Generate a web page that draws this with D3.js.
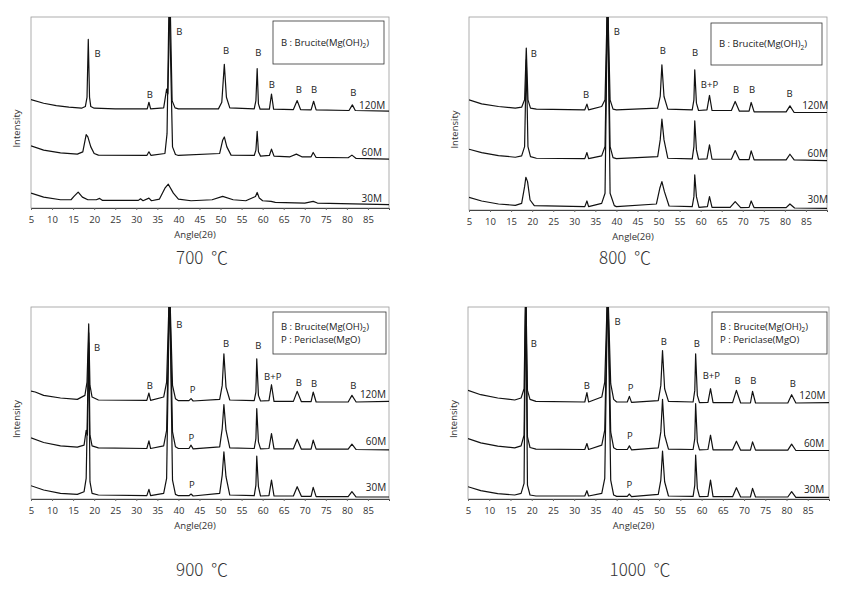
<!DOCTYPE html>
<html><head><meta charset="utf-8">
<script src="https://cdn.jsdelivr.net/npm/d3@7/dist/d3.min.js"></script>
<style>
body{margin:0;background:#fff;}
text{font-family:"Open Sans","Noto Sans CJK KR",sans-serif;}
</style></head>
<body><svg id="c" width="855" height="595"></svg>
<script>
// ---------- DATA (angle 2θ, intensity a.u.) ----------
const angleTicks = [5,10,15,20,25,30,35,40,45,50,55,60,65,70,75,80,85];
const panelTitles = ["700  ℃","800  ℃","900  ℃","1000  ℃"];
const seriesNames = ["120M","60M","30M"];

const p700_120M = [[5,328],[8,317],[11,310],[14,305],[17,302],[17.9,307],[18.3,335],[18.6,510],[18.9,335],[19.2,307],[20,302],[25,300],[32.6,300],[33,320],[33.4,300],[36.5,303],[37.2,360],[37.5,345],[38.0,650],[38.5,325],[39.2,303],[40,300],[49.5,300],[50.3,320],[50.9,435],[51.4,335],[52.2,303],[58,300],[58.4,325],[58.7,422],[59.0,315],[59.4,299],[61.6,299],[62.1,345],[62.6,299],[67.3,298],[68.2,325],[69,298],[71.5,297],[72.1,323],[72.7,297],[80.5,295],[81.3,312],[82,295],[90,293]];
const p700_60M = [[5,188],[8,175],[12,167],[16,163],[17.3,170],[18.1,222],[18.5,215],[19.2,185],[20,165],[21,160],[32.5,159],[33,170],[33.5,159],[36.8,165],[37.3,225],[37.8,650],[38.6,185],[39.3,162],[40,159],[49.8,165],[50.5,205],[50.9,215],[51.5,185],[52.5,160],[58,159],[58.4,175],[58.7,232],[59.0,170],[59.5,157],[61.6,159],[62.1,178],[62.7,157],[66.5,155],[68.0,163],[69.3,155],[71.5,155],[72.0,168],[72.7,153],[80.3,152],[81.2,160],[82.2,150],[90,148]];
const p700_30M = [[5,45],[8,33],[12,25],[14.5,25],[15.2,35],[16.2,48],[17.2,33],[18.5,25],[20.5,25],[21.3,29],[22,23],[30.5,23],[31,28],[31.6,22],[33,30],[33.6,22],[35.5,27],[36.8,60],[37.6,72],[38.8,45],[40,27],[43,22],[48,25],[50.5,35],[53,25],[56,22],[58.3,35],[58.7,47],[59.2,30],[60,22],[62,20],[63,17],[70,15],[72,20],[73,15],[90,10]];

const p800_120M = [[5,330],[8,318],[12,310],[16,305],[17.5,308],[18.2,330],[18.6,485],[19.0,330],[19.6,305],[21,302],[32.5,300],[33,317],[33.4,300],[36.5,310],[37.3,330],[37.9,650],[38.5,330],[39.2,302],[40,300],[49.8,305],[50.4,340],[50.8,435],[51.3,340],[52.2,302],[58,300],[58.4,330],[58.6,420],[59.0,320],[59.5,298],[61.5,300],[62.1,343],[62.7,298],[67.3,298],[68.2,325],[69.2,296],[71.5,296],[72.0,322],[72.7,294],[80.3,294],[81.2,312],[82.2,292],[90,292]];
const p800_60M = [[5,182],[8,172],[12,163],[16,158],[17.5,162],[18.2,190],[18.6,450],[19.0,190],[19.6,160],[21,155],[32.5,154],[33,172],[33.4,154],[36.5,162],[37.3,190],[37.9,650],[38.5,190],[39.2,157],[40,154],[49.8,160],[50.4,210],[50.8,272],[51.3,210],[52.2,155],[58,153],[58.4,190],[58.6,267],[59.0,180],[59.5,152],[61.5,153],[62.1,195],[62.7,152],[67.3,152],[68.2,178],[69.2,151],[71.5,151],[72.0,177],[72.7,150],[80.3,150],[81.2,167],[82.2,150],[90,148]];
const p800_30M = [[5,38],[8,27],[12,18],[16,14],[17.5,20],[18.2,70],[18.5,98],[18.9,85],[19.5,30],[20.5,13],[32.5,10],[33,27],[33.4,10],[36.5,20],[37.3,50],[37.9,650],[38.5,50],[39.5,13],[40,10],[49.5,18],[50.3,65],[50.8,85],[51.4,55],[52.5,12],[58,10],[58.4,40],[58.6,105],[59.0,40],[59.6,8],[61.6,10],[62.1,40],[62.7,8],[67,8],[68.2,25],[69.5,7],[71.5,8],[72.0,27],[72.7,7],[80.3,7],[81.2,18],[82.3,6],[90,5]];

const p900_120M = [[5,325],[6,322],[8,312],[12,304],[16,300],[17.8,312],[18.3,352],[18.7,527],[19.0,342],[19.5,307],[21,298],[32.5,297],[33,319],[33.4,297],[36.5,307],[37.2,352],[37.9,650],[38.6,342],[39.3,302],[40,296],[42.5,296],[43,302],[43.5,295],[49.8,300],[50.4,342],[50.8,437],[51.3,337],[52.2,298],[58,296],[58.4,322],[58.6,422],[59.0,312],[59.5,295],[61.5,296],[62.1,344],[62.7,294],[67.3,294],[68.2,324],[69.2,293],[71.5,293],[72.0,322],[72.7,292],[80.3,292],[81.2,312],[82.2,292],[90,294]];
const p900_60M = [[5,184],[8,170],[12,160],[16,156],[17.6,162],[18.1,207],[18.4,192],[18.7,500],[19.0,192],[19.5,160],[21,154],[32.5,152],[33,175],[33.4,152],[36.5,160],[37.2,207],[37.9,650],[38.6,202],[39.3,157],[40,152],[42.5,152],[43,162],[43.5,151],[49.8,157],[50.4,212],[50.8,284],[51.3,207],[52.2,154],[58,152],[58.4,182],[58.6,272],[59.0,172],[59.5,151],[61.5,152],[62.1,197],[62.7,151],[67.3,151],[68.2,180],[69.2,150],[71.5,150],[72.0,177],[72.7,150],[80.3,150],[81.2,165],[82.2,149],[90,148]];
const p900_30M = [[5,40],[8,27],[12,17],[16,14],[17.6,22],[18.1,62],[18.7,470],[19.0,52],[19.5,17],[21,12],[32.5,10],[33,29],[33.4,10],[36.5,17],[37.2,62],[37.9,650],[38.6,57],[39.3,14],[40,10],[42.5,10],[43,15],[43.5,9],[49.8,17],[50.4,72],[50.8,142],[51.3,67],[52.2,12],[58,10],[58.4,42],[58.6,129],[59.0,37],[59.5,9],[61.5,10],[62.1,57],[62.7,9],[67.3,9],[68.2,37],[69.2,8],[71.5,8],[72.0,35],[72.7,7],[80.3,7],[81.2,22],[82.2,6],[90,6]];

const p1000_120M = [[5,327],[8,314],[12,304],[16,298],[17.5,304],[18.2,332],[18.6,650],[19.0,327],[19.6,300],[21,294],[32.5,292],[33,320],[33.4,292],[36.5,307],[37.2,352],[37.9,650],[38.6,347],[39.3,300],[40,292],[42.5,292],[43,309],[43.5,291],[49.8,296],[50.4,342],[50.8,447],[51.3,332],[52.2,294],[58,292],[58.4,327],[58.6,437],[59.0,312],[59.5,290],[61.5,291],[62.1,332],[62.7,290],[67.3,290],[68.2,327],[69.2,289],[71.5,289],[72.0,324],[72.7,289],[80.3,289],[81.2,314],[82.2,289],[90,290]];
const p1000_60M = [[5,182],[8,169],[12,159],[16,154],[17.5,160],[18.2,192],[18.6,650],[19.0,187],[19.6,155],[21,150],[32.5,149],[33,167],[33.4,149],[36.5,162],[37.2,207],[37.9,650],[38.6,202],[39.3,154],[40,149],[42.5,149],[43,160],[43.5,148],[49.8,154],[50.4,202],[50.8,300],[51.3,192],[52.2,150],[58,149],[58.4,182],[58.6,287],[59.0,172],[59.5,148],[61.5,149],[62.1,192],[62.7,148],[67.3,148],[68.2,174],[69.2,147],[71.5,147],[72.0,172],[72.7,147],[80.3,147],[81.2,165],[82.2,146],[90,146]];
const p1000_30M = [[5,37],[8,25],[12,16],[16,12],[17.5,17],[18.2,47],[18.6,650],[19.0,42],[19.6,12],[21,9],[32.5,9],[33,25],[33.4,9],[36.5,17],[37.2,62],[37.9,650],[38.6,57],[39.3,12],[40,8],[42.5,8],[43,15],[43.5,7],[49.8,14],[50.4,57],[50.8,144],[51.3,52],[52.2,9],[58,8],[58.4,42],[58.6,132],[59.0,32],[59.5,7],[61.5,8],[62.1,57],[62.7,7],[67.3,7],[68.2,34],[69.2,6],[71.5,6],[72.0,32],[72.7,6],[80.3,6],[81.2,22],[82.2,5],[90,5]];

// peak annotations [angle, intensity, text]
const peaks700 = [[20.8,467,"B"],[40.2,533,"B"],[33.2,343,"B"],[51.3,477,"B"],[59.0,470,"B"],[62.2,373,"B"],[68.6,357,"B"],[72.2,357,"B"],[81.5,350,"B"]];
const peaks800 = [[20.4,467,"B"],[40.1,535,"B"],[32.8,345,"B"],[51.0,478,"B"],[58.7,472,"B"],[62.1,375,"B+P"],[68.4,360,"B"],[72.2,360,"B"],[81.1,347,"B"]];
const peaks900 = [[20.7,457,"B"],[40.2,524,"B"],[33.2,340,"B"],[43.4,329,"P"],[51.3,469,"B"],[59.0,462,"B"],[62.4,367,"B+P"],[68.6,350,"B"],[72.2,347,"B"],[81.5,342,"B"],[43.1,185,"P"],[43.2,42,"P"]];
const peaks1000 = [[20.5,467,"B"],[40.2,535,"B"],[33.0,342,"B"],[43.3,335,"P"],[51.1,475,"B"],[58.9,469,"B"],[62.3,372,"B+P"],[68.5,355,"B"],[72.2,355,"B"],[81.5,347,"B"],[43.1,190,"P"],[43.0,42,"P"]];
// series label positions [angle, intensity]
const sLabels700 = [[86.0,310],[85.9,167],[85.9,28]];
const sLabels800 = [[87.2,312],[87.8,168],[87.8,30]];
const sLabels900 = [[86.2,315],[86.9,172],[86.9,34]];
const sLabels1000 = [[86.1,312],[86.5,167],[86.5,30]];

const legendBrucite = ["B : Brucite(Mg(OH)", "2", ")"];
const legendPericlase = "P : Periclase(MgO)";

// ---------- LAYOUT ----------
const panels = [
  {l:31, t:17, r:389, b:208, series:[p700_120M,p700_60M,p700_30M], peaks:peaks700, sl:sLabels700, title:panelTitles[0], tx:202, ty:258, leg:{x:273,y:21,w:111,h:43}, legLines:1},
  {l:469, t:17, r:827, b:210, series:[p800_120M,p800_60M,p800_30M], peaks:peaks800, sl:sLabels800, title:panelTitles[1], tx:625, ty:258, leg:{x:711,y:23,w:111,h:42}, legLines:1},
  {l:31, t:307, r:389, b:499, series:[p900_120M,p900_60M,p900_30M], peaks:peaks900, sl:sLabels900, title:panelTitles[2], tx:202, ty:570, leg:{x:273,y:312,w:113,h:42}, legLines:2},
  {l:468, t:307, r:829, b:499, series:[p1000_120M,p1000_60M,p1000_30M], peaks:peaks1000, sl:sLabels1000, title:panelTitles[3], tx:640, ty:570, leg:{x:712,y:312,w:115,h:42}, legLines:2}
];

const svg = d3.select("#c");

panels.forEach((p,i)=>{
  const x = d3.scaleLinear().domain([5,90]).range([p.l,p.r]);
  const y = d3.scaleLinear().domain([0,578]).range([p.b,p.t]);
  const g = svg.append("g");
  const cid = "clip"+i;
  svg.append("clipPath").attr("id",cid).append("rect")
    .attr("x",p.l).attr("y",p.t).attr("width",p.r-p.l).attr("height",p.b-p.t);

  g.append("rect").attr("x",p.l).attr("y",p.t).attr("width",p.r-p.l).attr("height",p.b-p.t)
    .attr("fill","none").attr("stroke","#9a9a9a").attr("stroke-width",0.8);

  const ax = g.append("g").attr("transform",`translate(0,${p.b})`)
    .call(d3.axisBottom(x).tickValues(angleTicks).tickSize(2).tickPadding(6).tickFormat(d3.format("d")));
  ax.select(".domain").attr("stroke","#444").attr("stroke-width",1);
  ax.selectAll(".tick line").attr("stroke","#666");
  ax.selectAll(".tick text").attr("font-size",9.5).attr("fill","#333");

  const line = d3.line().x(d=>x(d[0])).y(d=>y(d[1]));
  const lg = g.append("g").attr("clip-path",`url(#${cid})`);
  p.series.forEach(s=>{
    lg.append("path").attr("d",line(s)).attr("fill","none")
      .attr("stroke","#111").attr("stroke-width",1.2).attr("stroke-linejoin","round");
  });

  p.peaks.forEach(d=>{
    g.append("text").attr("x",x(d[0])).attr("y",y(d[1])).attr("dy","0.35em")
      .attr("text-anchor","middle").attr("font-size",9.5).attr("fill","#222").text(d[2]);
  });
  p.sl.forEach((d,k)=>{
    g.append("text").attr("x",x(d[0])).attr("y",y(d[1])).attr("dy","0.35em")
      .attr("text-anchor","middle").attr("font-size",10).attr("fill","#222").text(seriesNames[k]);
  });

  const L = p.leg;
  g.append("rect").attr("x",L.x).attr("y",L.y).attr("width",L.w).attr("height",L.h)
    .attr("fill","#fff").attr("stroke","#333").attr("stroke-width",0.8);
  const ly1 = p.legLines===1 ? L.y+L.h/2 : L.y+L.h/2-6.5;
  const t1 = g.append("text").attr("x",L.x+8).attr("y",ly1).attr("dy","0.35em")
    .attr("font-size",9.5).attr("fill","#222");
  t1.append("tspan").text(legendBrucite[0]);
  t1.append("tspan").attr("font-size",6.5).attr("dy","2.5").text(legendBrucite[1]);
  t1.append("tspan").attr("dy","-2.5").text(legendBrucite[2]);
  if(p.legLines===2){
    g.append("text").attr("x",L.x+8).attr("y",ly1+13).attr("dy","0.35em")
      .attr("font-size",9.5).attr("fill","#222").text(legendPericlase);
  }

  g.append("text").attr("x",(p.l+p.r)/2-15).attr("y",p.b+30)
    .attr("text-anchor","middle").attr("font-size",9.5).attr("fill","#333").text("Angle(2θ)");
  g.append("text").attr("transform",`translate(${p.l-11},${(p.t+p.b)/2+16}) rotate(-90)`)
    .attr("text-anchor","middle").attr("font-size",9.5).attr("fill","#333").text("Intensity");

  svg.append("text").attr("x",p.tx).attr("y",p.ty).attr("dy","0.35em")
    .attr("text-anchor","middle").attr("font-size",17).attr("fill","#333")
    .style("font-family","'Noto Sans CJK KR',sans-serif").style("font-weight",300)
    .style("white-space","pre").attr("xml:space","preserve")
    .text(p.title);
});
</script></body></html>
